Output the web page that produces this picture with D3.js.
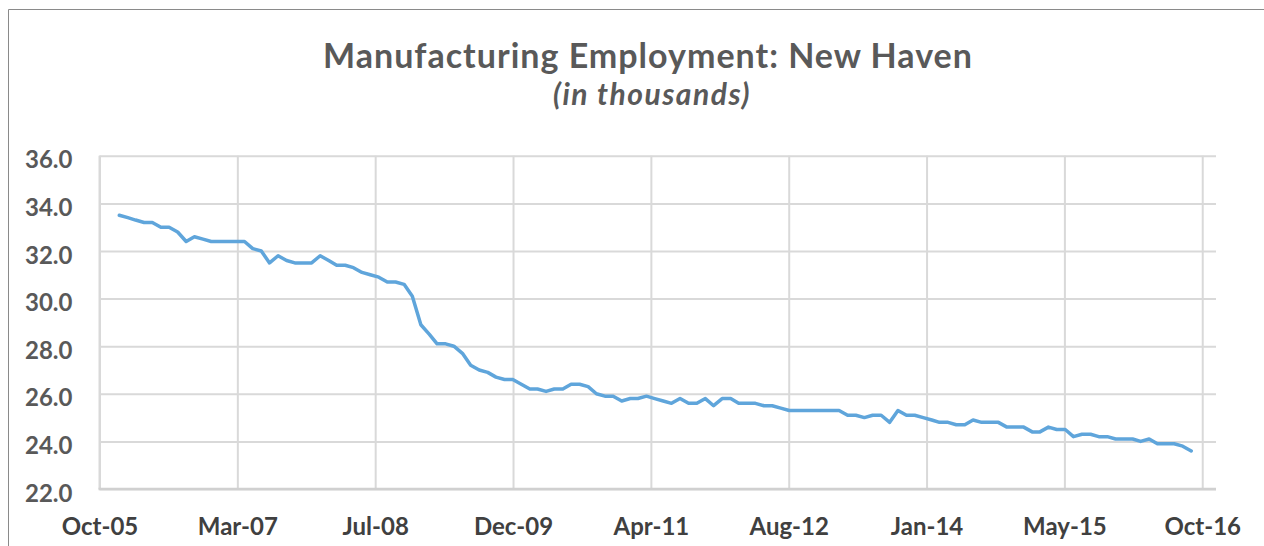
<!DOCTYPE html>
<html>
<head>
<meta charset="utf-8">
<script src="https://cdn.jsdelivr.net/npm/d3@7"></script>
<style>
  body { margin: 0; background: #fff; }
  svg { display: block; font-family: Lato, "Open Sans", sans-serif; }
</style>
</head>
<body>
<script>
// monthly values, thousands of jobs, Jan 2006 .. Sep 2016
const firstMonth = new Date(2006, 0, 1)
const employment = [
  33.5, 33.4, 33.3, 33.2, 33.2, 33.0, 33.0, 32.8, 32.4, 32.6,
  32.5, 32.4, 32.4, 32.4, 32.4, 32.4, 32.1, 32.0, 31.5, 31.8,
  31.6, 31.5, 31.5, 31.5, 31.8, 31.6, 31.4, 31.4, 31.3, 31.1,
  31.0, 30.9, 30.7, 30.7, 30.6, 30.1, 28.9, 28.5, 28.1, 28.1,
  28.0, 27.7, 27.2, 27.0, 26.9, 26.7, 26.6, 26.6, 26.4, 26.2,
  26.2, 26.1, 26.2, 26.2, 26.4, 26.4, 26.3, 26.0, 25.9, 25.9,
  25.7, 25.8, 25.8, 25.9, 25.8, 25.7, 25.6, 25.8, 25.6, 25.6,
  25.8, 25.5, 25.8, 25.8, 25.6, 25.6, 25.6, 25.5, 25.5, 25.4,
  25.3, 25.3, 25.3, 25.3, 25.3, 25.3, 25.3, 25.1, 25.1, 25.0,
  25.1, 25.1, 24.8, 25.3, 25.1, 25.1, 25.0, 24.9, 24.8, 24.8,
  24.7, 24.7, 24.9, 24.8, 24.8, 24.8, 24.6, 24.6, 24.6, 24.4,
  24.4, 24.6, 24.5, 24.5, 24.2, 24.3, 24.3, 24.2, 24.2, 24.1,
  24.1, 24.1, 24.0, 24.1, 23.9, 23.9, 23.9, 23.8, 23.6
]

// date axis: labels every 501 days starting from the axis minimum
const axisStart = new Date(2005, 9, 21)
const axisEnd = new Date(2016, 10, 30)
const tickStepDays = 501
const xTickLabels = ['Oct-05', 'Mar-07', 'Jul-08', 'Dec-09', 'Apr-11', 'Aug-12', 'Jan-14', 'May-15', 'Oct-16']
const yTicks = [22, 24, 26, 28, 30, 32, 34, 36]

const W = 1264, H = 546
const plot = {left: 99.5, right: 1216, top: 155.8, bottom: 489}

const data = employment.map((v, i) => ({date: d3.timeMonth.offset(firstMonth, i), value: v}))
const xTickDates = xTickLabels.map((l, i) => d3.timeDay.offset(axisStart, i * tickStepDays))

const svg = d3.select('body').append('svg')
    .attr('width', W)
    .attr('height', H)

// chart frame (only top and left edges are inside the picture)
svg.append('path')
    .attr('d', `M8.5,${H} V9.5 H${W}`)
    .attr('fill', 'none')
    .attr('stroke', '#8a8a8a')
    .attr('stroke-width', 1)

svg.append('text')
    .attr('x', 648)
    .attr('y', 68)
    .attr('text-anchor', 'middle')
    .style('font-size', '34px')
    .style('font-weight', 'bold')
    .style('letter-spacing', '1px')
    .attr('fill', '#595959')
    .text('Manufacturing Employment: New Haven')

svg.append('text')
    .attr('x', 652)
    .attr('y', 105)
    .attr('text-anchor', 'middle')
    .style('font-size', '30px')
    .style('font-weight', 'bold')
    .style('font-style', 'italic')
    .style('letter-spacing', '1.5px')
    .attr('fill', '#595959')
    .text('(in thousands)')

const xScale = d3.scaleTime()
    .domain([axisStart, axisEnd])
    .range([plot.left, plot.right])

const yScale = d3.scaleLinear()
    .domain([22, 36])
    .range([plot.bottom, plot.top])

const yAxis = svg.append('g')
    .attr('transform', `translate(${plot.left},0)`)
    .call(d3.axisLeft(yScale)
      .tickValues(yTicks)
      .tickFormat(d3.format('.1f'))
      .tickSize(-(plot.right - plot.left))
      .tickPadding(27))
yAxis.select('.domain').remove()
yAxis.selectAll('line')
    .attr('stroke', '#d9d9d9')
    .attr('stroke-width', 2)
yAxis.selectAll('text')
    .attr('dy', '0.5em')
    .attr('fill', '#595959')
    .style('font-size', '24px')
    .style('font-weight', 'bold')
    .style('font-family', 'Lato, sans-serif')

const xAxis = svg.append('g')
    .attr('transform', `translate(0,${plot.bottom})`)
    .call(d3.axisBottom(xScale)
      .tickValues(xTickDates)
      .tickFormat((d, i) => xTickLabels[i])
      .tickSize(-(plot.bottom - plot.top)))
xAxis.select('.domain').remove()
xAxis.selectAll('line')
    .attr('stroke', '#d9d9d9')
    .attr('stroke-width', 2)
xAxis.selectAll('text')
    .attr('y', 46)
    .attr('dy', null)
    .attr('fill', '#404040')
    .style('font-size', '24px')
    .style('font-weight', 'bold')
    .style('font-family', 'Lato, sans-serif')

// axis lines
svg.append('line')
    .attr('x1', plot.left).attr('x2', plot.left)
    .attr('y1', plot.top).attr('y2', plot.bottom)
    .attr('stroke', '#d9d9d9')
    .attr('stroke-width', 2)
svg.append('line')
    .attr('x1', plot.left - 1).attr('x2', plot.right)
    .attr('y1', plot.bottom).attr('y2', plot.bottom)
    .attr('stroke', '#d0d0d0')
    .attr('stroke-width', 2.5)

const line = d3.line()
    .x(d => xScale(d.date))
    .y(d => yScale(d.value))

svg.append('path')
    .datum(data)
    .attr('d', line)
    .attr('fill', 'none')
    .attr('stroke', '#5fa5db')
    .attr('stroke-width', 3.5)
    .attr('stroke-linejoin', 'round')
    .attr('stroke-linecap', 'round')
</script>
</body>
</html>
